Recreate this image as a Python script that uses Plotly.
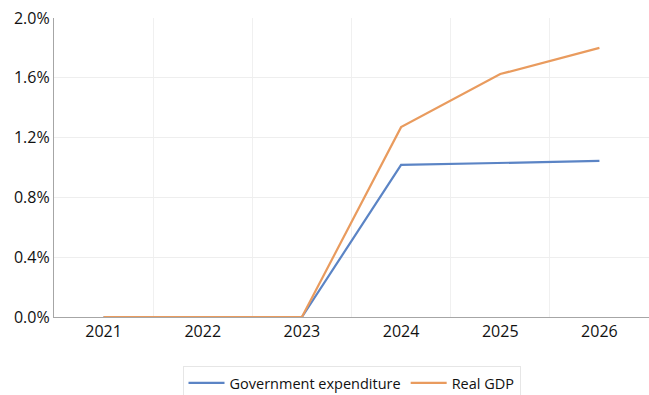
import plotly.graph_objects as go

years = ["2021", "2022", "2023", "2024", "2025", "2026"]
gov_exp = [0.0, 0.0, 0.0, 1.017, 1.028, 1.044]
real_gdp = [0.0, 0.0, 0.0, 1.27, 1.625, 1.80]
y_ticks = [0.0, 0.4, 0.8, 1.2, 1.6, 2.0]
y_tick_labels = ["0.0%", "0.4%", "0.8%", "1.2%", "1.6%", "2.0%"]

fig = go.Figure()
fig.add_trace(go.Scatter(x=years, y=gov_exp, mode="lines", name="Government expenditure",
                         line=dict(color="#5B84C5", width=2.2)))
fig.add_trace(go.Scatter(x=years, y=real_gdp, mode="lines", name="Real GDP",
                         line=dict(color="#E99B5E", width=2.2)))

font = "Open Sans"
fig.update_layout(
    width=649, height=395,
    margin=dict(l=54, r=0, t=18, b=78, autoexpand=False),
    plot_bgcolor="white", paper_bgcolor="white",
    font=dict(family=font, size=15, color="#111111"),
    showlegend=True,
    legend=dict(orientation="h", x=0.50, xanchor="center", y=-0.164, yanchor="top",
                bordercolor="#e6e6e6", borderwidth=1, font=dict(size=14.5),
                itemwidth=36),
    xaxis=dict(type="category", range=[-0.5, 5.5], tickson="boundaries",
               showgrid=True, gridcolor="#f0f0f0", gridwidth=1,
               showline=True, linecolor="#a6a6a6", linewidth=1.3,
               ticks="", ticklen=0, tickfont=dict(size=16), automargin=False,
               ticklabeloverflow="allow"),
    yaxis=dict(range=[0, 2.0], tickvals=y_ticks, ticktext=y_tick_labels,
               showgrid=True, gridcolor="#eeeeee", gridwidth=1,
               showline=True, linecolor="#a6a6a6", linewidth=1.3,
               zeroline=False, ticks="", tickfont=dict(size=16), automargin=False,
               ticklabeloverflow="allow"),
)
fig.write_html("out.html", config={"displayModeBar": False},
               post_script="document.body.style.margin='0';document.body.style.overflow='hidden';")
